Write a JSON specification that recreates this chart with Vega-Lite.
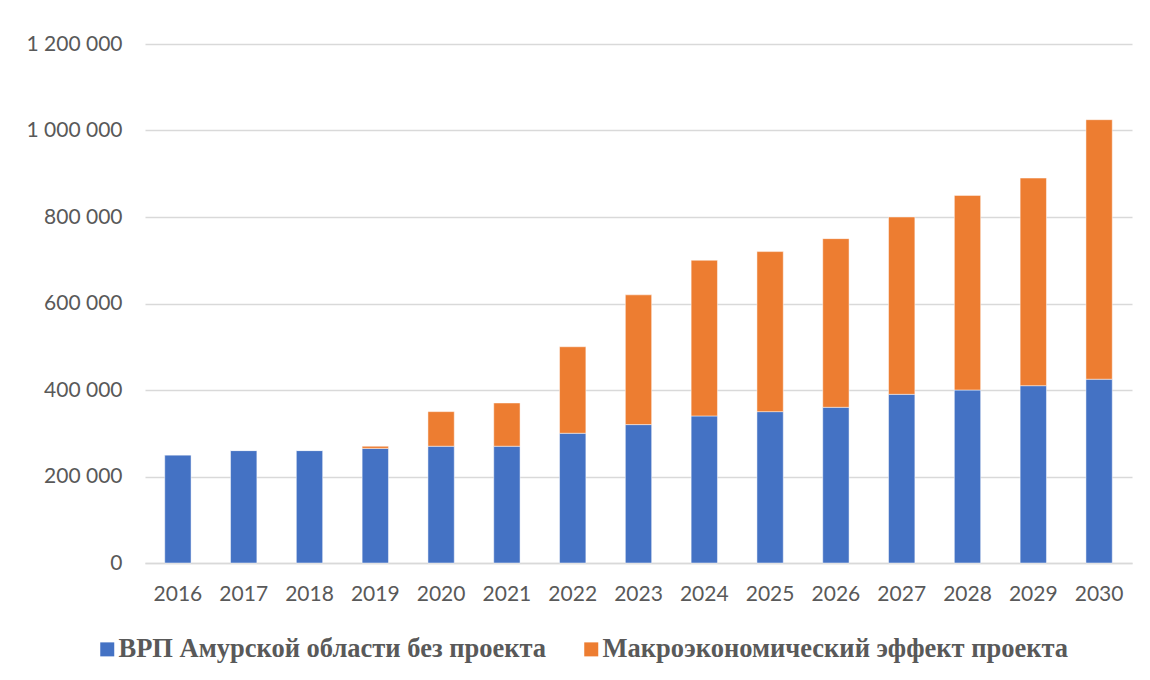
{
  "$schema": "https://vega.github.io/schema/vega-lite/v6.json",
  "autosize": "none",
  "width": 987,
  "height": 519,
  "padding": {"left": 145, "top": 44, "right": 18, "bottom": 117},
  "background": "white",
  "data": {
    "values": [
      {"year": "2016", "series": "ВРП Амурской области без проекта", "value": 250000},
      {"year": "2017", "series": "ВРП Амурской области без проекта", "value": 260000},
      {"year": "2018", "series": "ВРП Амурской области без проекта", "value": 260000},
      {"year": "2019", "series": "ВРП Амурской области без проекта", "value": 265000},
      {"year": "2020", "series": "ВРП Амурской области без проекта", "value": 270000},
      {"year": "2021", "series": "ВРП Амурской области без проекта", "value": 270000},
      {"year": "2022", "series": "ВРП Амурской области без проекта", "value": 300000},
      {"year": "2023", "series": "ВРП Амурской области без проекта", "value": 320000},
      {"year": "2024", "series": "ВРП Амурской области без проекта", "value": 340000},
      {"year": "2025", "series": "ВРП Амурской области без проекта", "value": 350000},
      {"year": "2026", "series": "ВРП Амурской области без проекта", "value": 360000},
      {"year": "2027", "series": "ВРП Амурской области без проекта", "value": 390000},
      {"year": "2028", "series": "ВРП Амурской области без проекта", "value": 400000},
      {"year": "2029", "series": "ВРП Амурской области без проекта", "value": 410000},
      {"year": "2030", "series": "ВРП Амурской области без проекта", "value": 425000},
      {"year": "2016", "series": "Макроэкономический эффект проекта", "value": 0},
      {"year": "2017", "series": "Макроэкономический эффект проекта", "value": 0},
      {"year": "2018", "series": "Макроэкономический эффект проекта", "value": 0},
      {"year": "2019", "series": "Макроэкономический эффект проекта", "value": 5000},
      {"year": "2020", "series": "Макроэкономический эффект проекта", "value": 80000},
      {"year": "2021", "series": "Макроэкономический эффект проекта", "value": 100000},
      {"year": "2022", "series": "Макроэкономический эффект проекта", "value": 200000},
      {"year": "2023", "series": "Макроэкономический эффект проекта", "value": 300000},
      {"year": "2024", "series": "Макроэкономический эффект проекта", "value": 360000},
      {"year": "2025", "series": "Макроэкономический эффект проекта", "value": 370000},
      {"year": "2026", "series": "Макроэкономический эффект проекта", "value": 390000},
      {"year": "2027", "series": "Макроэкономический эффект проекта", "value": 410000},
      {"year": "2028", "series": "Макроэкономический эффект проекта", "value": 450000},
      {"year": "2029", "series": "Макроэкономический эффект проекта", "value": 480000},
      {"year": "2030", "series": "Макроэкономический эффект проекта", "value": 600000}
    ]
  },
  "mark": {"type": "bar", "stroke": "white", "strokeWidth": 0.8, "strokeOpacity": 0.6},
  "encoding": {
    "x": {
      "field": "year",
      "type": "ordinal",
      "scale": {"paddingInner": 0.6, "paddingOuter": 0.3},
      "axis": {
        "title": null,
        "labelAngle": 0,
        "labelFont": "Lato",
        "labelFontSize": 21,
        "labelColor": "#595959",
        "labelPadding": 20,
        "ticks": false,
        "domain": true,
        "domainColor": "#D9D9D9",
        "domainWidth": 1.3
      }
    },
    "y": {
      "field": "value",
      "type": "quantitative",
      "stack": "zero",
      "scale": {"domain": [0, 1200000], "nice": false},
      "axis": {
        "title": null,
        "values": [0, 200000, 400000, 600000, 800000, 1000000, 1200000],
        "labelExpr": "replace(format(datum.value, ','), regexp(',', 'g'), ' ')",
        "labelFont": "Lato",
        "labelFontSize": 21,
        "labelColor": "#595959",
        "labelPadding": 23,
        "ticks": false,
        "domain": false,
        "grid": true,
        "gridColor": "#D9D9D9",
        "gridWidth": 1.3
      }
    },
    "color": {
      "field": "series",
      "type": "nominal",
      "scale": {
        "domain": ["ВРП Амурской области без проекта", "Макроэкономический эффект проекта"],
        "range": ["#4472C4", "#ED7D31"]
      },
      "legend": {
        "title": null,
        "orient": "none",
        "legendX": -51,
        "legendY": 592,
        "direction": "horizontal",
        "symbolType": "square",
        "symbolSize": 196,
        "symbolStrokeWidth": 0,
        "labelFont": "Liberation Serif",
        "labelFontSize": 26.5,
        "labelFontWeight": "bold",
        "labelColor": "#595959",
        "labelOffset": -2,
        "labelLimit": 0,
        "columnPadding": 31
      }
    },
    "order": {"field": "series", "sort": "ascending"}
  },
  "config": {
    "view": {"stroke": null}
  }
}
